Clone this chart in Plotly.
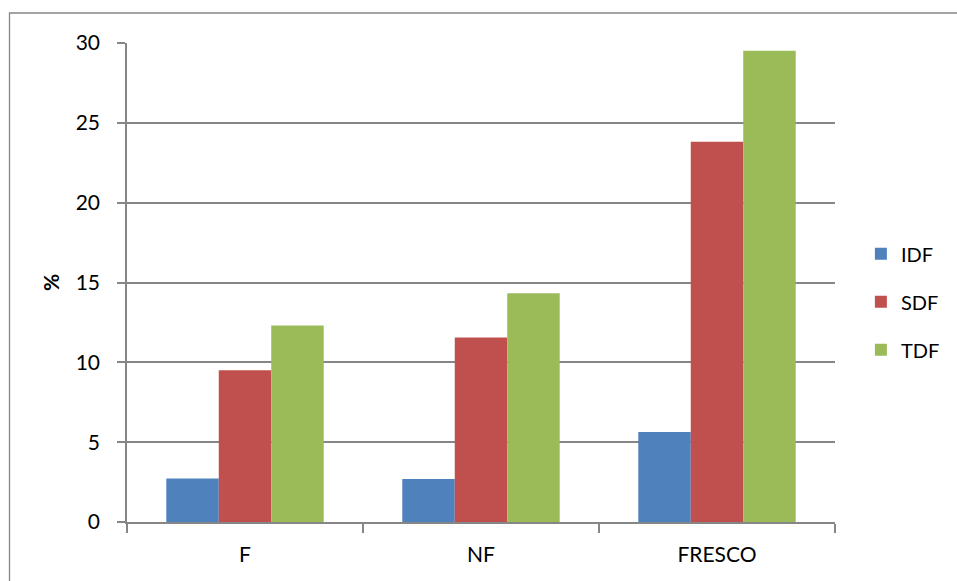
import plotly.graph_objects as go

# Fibre fractions (%) per sample type
categories = ["F", "NF", "FRESCO"]
idf = [2.72, 2.70, 5.63]
sdf = [9.50, 11.56, 23.82]
tdf = [12.30, 14.32, 29.51]

series = [
    ("IDF", idf, "#4F81BD"),
    ("SDF", sdf, "#C0504D"),
    ("TDF", tdf, "#9BBB59"),
]

axis_gray = "#868686"
font_family = "Lato, 'Open Sans', sans-serif"

fig = go.Figure()
for name, values, color in series:
    fig.add_trace(go.Bar(
        name=name,
        x=categories,
        y=values,
        legendgroup=name,
        marker=dict(color=color, line=dict(width=0)),
    ))

W, H = 957, 581
ml, mr, mt, mb = 127, 119, 43, 59
pw, ph = W - ml - mr, H - mt - mb

# outer chart frame (extends past the right/bottom edges of the page)
fig.add_shape(
    type="rect", xref="paper", yref="paper",
    x0=(9 - ml) / pw, x1=(W + 5 - ml) / pw,
    y0=-(mb + 5) / ph, y1=(H - mb - 13) / ph,
    line=dict(color=axis_gray, width=1.3), fillcolor="rgba(0,0,0,0)",
    layer="below",
)

fig.update_layout(
    width=W, height=H,
    margin=dict(l=ml, r=mr, t=mt, b=mb, pad=0),
    paper_bgcolor="white", plot_bgcolor="white",
    barmode="group", bargap=0.333, bargroupgap=0,
    font=dict(family=font_family, size=21, color="black"),
    showlegend=True,
    legend=dict(
        x=(864 - ml) / pw, xanchor="left",
        y=(H - mb - 301.7) / ph, yanchor="middle",
        font=dict(size=20), tracegroupgap=19,
        bgcolor="rgba(0,0,0,0)",
    ),
    xaxis=dict(
        showline=True, linecolor=axis_gray, linewidth=1.5,
        ticks="outside", tickson="boundaries", ticklen=9,
        tickcolor=axis_gray, tickwidth=1.5,
        showgrid=False, ticklabelstandoff=13,
        tickfont=dict(size=21),
    ),
    yaxis=dict(
        range=[0, 30], tickvals=[0, 5, 10, 15, 20, 25, 30],
        showline=True, linecolor=axis_gray, linewidth=1.5,
        ticks="outside", ticklen=8, tickcolor=axis_gray, tickwidth=1.5,
        showgrid=True, gridcolor=axis_gray, gridwidth=1.5,
        zeroline=False, ticklabelstandoff=13,
        tickfont=dict(size=21),
        title=dict(text="<b>%</b>", font=dict(size=21), standoff=10),
    ),
)

fig.write_html("out.html")
